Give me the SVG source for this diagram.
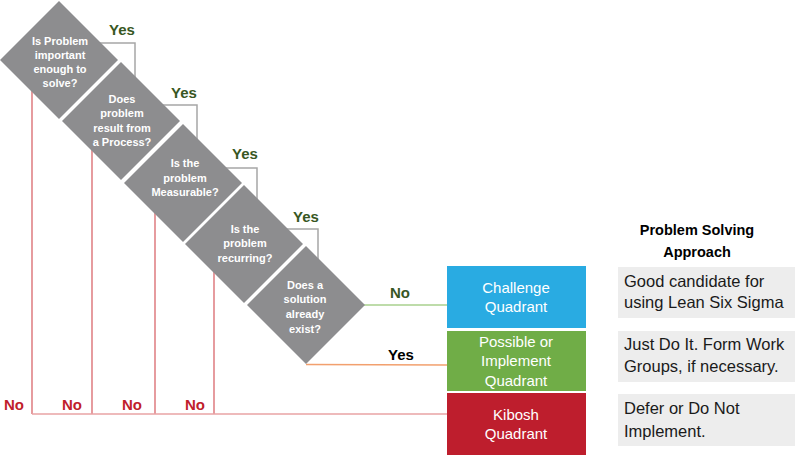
<svg xmlns="http://www.w3.org/2000/svg" width="795" height="455" viewBox="0 0 795 455">
<style>
.dia{fill:#8d8d8f}
.dt{font-family:"Liberation Sans",Arial,sans-serif;font-weight:bold;font-size:11px;fill:#fff;text-anchor:middle}
.gray{fill:none;stroke:#a6a6a6;stroke-width:1.5}
.red{fill:none;stroke:#d9666b;stroke-width:1.3}
.yes{font-family:"Liberation Sans",Arial,sans-serif;font-weight:bold;font-size:15px;fill:#385723;text-anchor:middle}
.no{font-family:"Liberation Sans",Arial,sans-serif;font-weight:bold;font-size:15px;fill:#c0202a;text-anchor:middle}
.bt{font-family:"Liberation Sans",Arial,sans-serif;font-size:15px;fill:#fff;text-anchor:middle}
.gt{font-family:"Liberation Sans",Arial,sans-serif;font-size:16.5px;fill:#1a1a1a}
.gbox{fill:#ededed}
.hd{font-family:"Liberation Sans",Arial,sans-serif;font-weight:bold;font-size:14.5px;fill:#000;text-anchor:middle}
</style>
<rect width="795" height="455" fill="#fff"/>
<g id="connectors">
<polyline class="gray" points="80,43 135,43 135,90"/>
<polyline class="gray" points="140,105 197,105 197,150"/>
<polyline class="gray" points="200,168 257,168 257,212"/>
<polyline class="gray" points="262,229 318,229 318,272"/>
<polyline class="red" points="32,80 32,414"/>
<polyline class="red" points="92,140 92,414"/>
<polyline class="red" points="155,200 155,414"/>
<polyline class="red" points="214,262 214,414"/>
<line x1="32" y1="414" x2="447" y2="414" stroke="#e8a3a5" stroke-width="1.5"/>
<line x1="340" y1="305" x2="447" y2="305" stroke="#a9d18e" stroke-width="1.5"/>
<line x1="306" y1="364.5" x2="447" y2="365" stroke="#f2a06e" stroke-width="1.5"/>
<text class="yes" x="122" y="35">Yes</text>
<text class="yes" x="184" y="98">Yes</text>
<text class="yes" x="245" y="159">Yes</text>
<text class="yes" x="306" y="222">Yes</text>
<text class="yes" x="400" y="298">No</text>
<text class="yes" x="401" y="360" style="fill:#000">Yes</text>
<text class="no" x="14" y="410">No</text>
<text class="no" x="72" y="410">No</text>
<text class="no" x="132" y="410">No</text>
<text class="no" x="195" y="410">No</text>
</g>
<g id="d1">
<polygon class="dia" points="59,1 118,60 59,119 0,60"/>
<text class="dt" x="60" y="45">Is Problem</text>
<text class="dt" x="60" y="59">important</text>
<text class="dt" x="60" y="73">enough to</text>
<text class="dt" x="60" y="87">solve?</text>
</g>
<g id="d2">
<polygon class="dia" points="121,62 180,121 121,180 62,121"/>
<text class="dt" x="122" y="103">Does</text>
<text class="dt" x="122" y="117">problem</text>
<text class="dt" x="122" y="132">result from</text>
<text class="dt" x="122" y="146">a Process?</text>
</g>
<g id="d3">
<polygon class="dia" points="183,124 242,183 183,242 124,183"/>
<text class="dt" x="185" y="167">Is the</text>
<text class="dt" x="185" y="182">problem</text>
<text class="dt" x="185" y="196">Measurable?</text>
</g>
<g id="d4">
<polygon class="dia" points="244,185 303,244 244,303 185,244"/>
<text class="dt" x="245" y="233">Is the</text>
<text class="dt" x="245" y="247">problem</text>
<text class="dt" x="245" y="262">recurring?</text>
</g>
<g id="d5">
<polygon class="dia" points="306,246 365,305 306,364 247,305"/>
<text class="dt" x="305" y="289">Does a</text>
<text class="dt" x="305" y="303">solution</text>
<text class="dt" x="305" y="318">already</text>
<text class="dt" x="305" y="333">exist?</text>
</g>
<g id="challenge">
<rect x="447" y="266" width="139" height="62" fill="#29abe2"/>
<text class="bt" x="516" y="293">Challenge</text>
<text class="bt" x="516" y="312">Quadrant</text>
</g>
<g id="implement">
<rect x="447" y="331" width="139" height="60" fill="#70ad47"/>
<text class="bt" x="516" y="347">Possible or</text>
<text class="bt" x="516" y="366">Implement</text>
<text class="bt" x="516" y="386">Quadrant</text>
</g>
<g id="kibosh">
<rect x="447" y="393" width="139" height="62" fill="#be1e2d"/>
<text class="bt" x="516" y="420">Kibosh</text>
<text class="bt" x="516" y="439">Quadrant</text>
</g>
<g id="heading">
<text class="hd" x="697" y="235">Problem Solving</text>
<text class="hd" x="697" y="257">Approach</text>
</g>
<g id="a1">
<rect class="gbox" x="618" y="267" width="177" height="51"/>
<text class="gt" x="624" y="287">Good candidate for</text>
<text class="gt" x="624" y="308">using Lean Six Sigma</text>
</g>
<g id="a2">
<rect class="gbox" x="618" y="331" width="177" height="51"/>
<text class="gt" x="624" y="350">Just Do It. Form Work</text>
<text class="gt" x="624" y="372">Groups, if necessary.</text>
</g>
<g id="a3">
<rect class="gbox" x="618" y="394" width="177" height="52"/>
<text class="gt" x="624" y="414">Defer or Do Not</text>
<text class="gt" x="624" y="437">Implement.</text>
</g>
</svg>
